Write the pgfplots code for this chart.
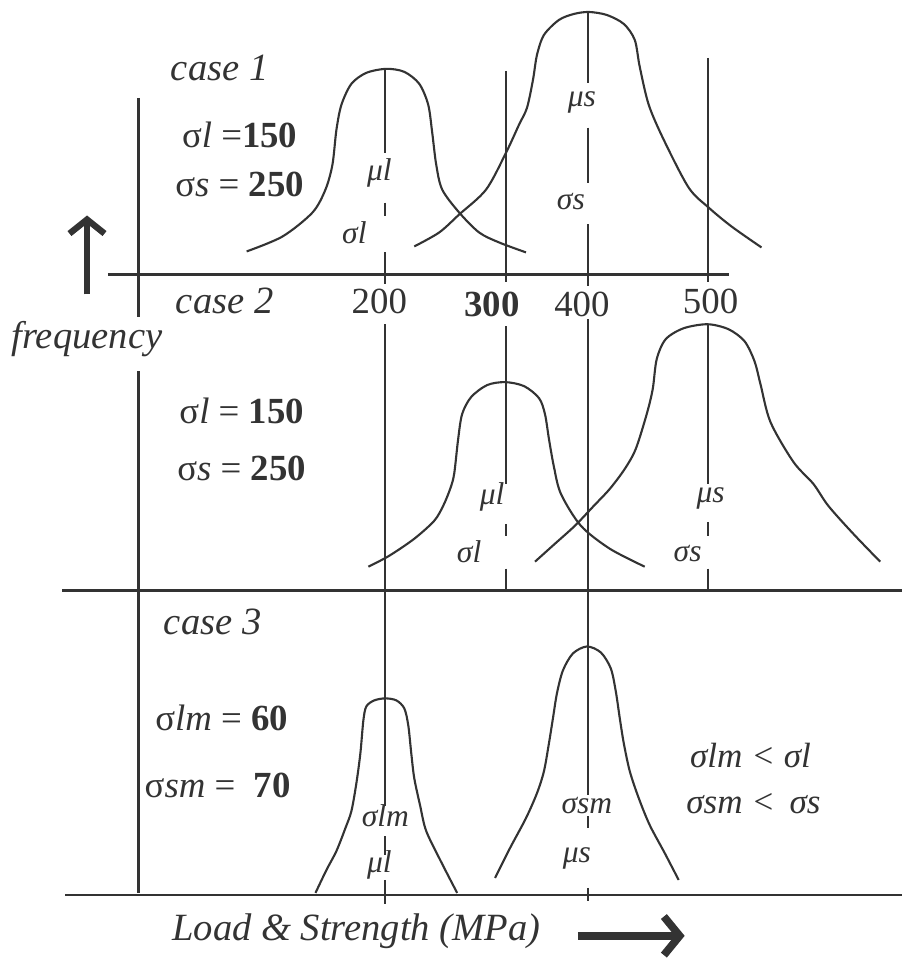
\documentclass[border=0pt]{standalone}
\usepackage{pgfplots}
\pgfplotsset{compat=1.18}
\usepackage{fontspec}
\setmainfont{Liberation Serif}
\usetikzlibrary{arrows.meta}
\definecolor{ink}{HTML}{333333}
\begin{document}
\begin{tikzpicture}[
  lbl/.style={font=\fontsize{11}{13}\selectfont\itshape, text=ink},
  sm/.style={font=\fontsize{9}{11}\selectfont\itshape, text=ink},
  val/.style={font=\fontsize{10.5}{12}\selectfont, text=ink},
]
\begin{axis}[
  scale only axis, width=9.04cm, height=9.6cm,
  xmin=0, xmax=904, ymin=0, ymax=960, y dir=reverse,
  enlargelimits=false, ticks=none, axis line style={draw=none},
  clip=false, unbounded coords=jump,
  every axis plot/.append style={ink, no markers},
]
% axes and dividers
\addplot[line width=0.8pt] coordinates {(139,98) (139,318) (139,nan) (139,372) (139,895)};
\addplot[line width=0.8pt] coordinates {(108,275) (730,275)};
\addplot[line width=0.8pt] coordinates {(62,592) (904,592)};
\addplot[line width=0.8pt] coordinates {(65,897) (904,897)};
% vertical reference lines
\addplot[line width=0.6pt] coordinates {(386,69) (386,153) (386,nan) (386,203) (386,217) (386,nan) (386,253) (386,285)
  (386,nan) (386,325) (386,808) (386,nan) (386,838) (386,857) (386,nan) (386,882) (386,906)};
\addplot[line width=0.6pt] coordinates {(507,71) (507,283) (507,nan) (507,327) (507,485) (507,nan) (507,525) (507,537) (507,nan) (507,570) (507,592)};
\addplot[line width=0.6pt] coordinates {(589,12) (589,83) (589,nan) (589,128) (589,183) (589,nan) (589,225) (589,287)
  (589,nan) (589,320) (589,797) (589,nan) (589,818) (589,830) (589,nan) (589,890) (589,903)};
\addplot[line width=0.6pt] coordinates {(709,58) (709,283) (709,nan) (709,325) (709,485) (709,nan) (709,523) (709,537) (709,nan) (709,570) (709,592)};
% case 1 load
\addplot[line width=0.6pt, smooth, tension=0.5] coordinates {
  (247,252) (283,237) (313,213) (326,190) (333,165) (337,130) (342,105) (352,84) (367,73) (387,69)
  (405,72) (420,84) (429,105) (433,133) (437,165) (443,190) (460,213) (480,233) (500,243) (527,253)};
% case 1 strength
\addplot[line width=0.6pt, smooth, tension=0.5] coordinates {
  (415,247) (440,233) (460,215) (487,190) (507,153) (520,125) (528,108) (534,80) (538,55) (545,35) (560,20) (575,14) (590,12)
  (608,15) (625,24) (636,40) (641,67) (650,105) (665,140) (690,188) (710,208) (733,227) (763,248)};
% case 2 load
\addplot[line width=0.6pt, smooth, tension=0.5] coordinates {
  (369,568) (390,557) (415,540) (435,522) (444,507) (451,490) (455,475) (459,440) (463,415) (472,398) (488,386) (506,383)
  (525,387) (540,399) (546,415) (550,440) (555,468) (562,495) (582,527) (611,550) (646,568)};
% case 2 strength
\addplot[line width=0.6pt, smooth, tension=0.5] coordinates {
  (536,563) (556,545) (576,527) (595,507) (611,490) (626,470) (637,450) (648,415) (654,390) (658,360) (667,340) (685,329) (709,325)
  (730,330) (746,342) (756,362) (762,385) (772,423) (795,463) (815,485) (830,507) (855,535) (882,563)};
% case 3 load
\addplot[line width=0.6pt, smooth, tension=0.5] coordinates {
  (316,895) (327,872) (337,853) (346,830) (352,813) (357,785) (361,755) (364,722) (367,708) (375,702) (386,700)
  (397,702) (405,710) (409,727) (412,755) (415,780) (421,808) (427,833) (442,864) (458,895)};
% case 3 strength
\addplot[line width=0.6pt, smooth, tension=0.5] coordinates {
  (496,880) (511,850) (527,820) (538,795) (545,773) (550,745) (554,720) (558,695) (564,672) (574,655) (588,648)
  (602,654) (612,670) (617,693) (621,720) (625,745) (631,773) (640,800) (651,827) (666,855) (680,882)};
% arrows
\addplot[line width=1.8pt, -{Straight Barb[length=4pt,width=10pt]}] coordinates {(87,295) (87,216)};
\addplot[line width=2.2pt, -{Straight Barb[length=4.5pt,width=11pt]}] coordinates {(579,938) (686,938)};
% texts
\node[lbl] at (axis cs:220,68) {case 1};
\node[lbl] at (axis cs:225,302) {case 2};
\node[lbl] at (axis cs:213,623) {case 3};
\node[lbl] at (axis cs:87,340) {frequency};
\node[lbl] at (axis cs:357,933) {Load \& Strength (MPa)};
\node[val] at (axis cs:240,135) {σ\textit{l} =\textbf{150}};
\node[val] at (axis cs:240,185) {σ\textit{s} = \textbf{250}};
\node[val] at (axis cs:242,412) {σ\textit{l} = \textbf{150}};
\node[val] at (axis cs:242,470) {σ\textit{s} = \textbf{250}};
\node[val] at (axis cs:222,720) {σ\textit{lm} = \textbf{60}};
\node[val] at (axis cs:218,787) {σ\textit{sm} = \ \textbf{70}};
\node[val] at (axis cs:380,302) {200};
\node[val] at (axis cs:493,305) {\textbf{300}};
\node[val] at (axis cs:583,305) {400};
\node[val] at (axis cs:712,302) {500};
\node[sm] at (axis cs:380,173) {μl};
\node[sm] at (axis cs:355,233) {σl};
\node[sm] at (axis cs:583,103) {μs};
\node[sm] at (axis cs:572,202) {σs};
\node[sm] at (axis cs:493,498) {μl};
\node[sm] at (axis cs:470,553) {σl};
\node[sm] at (axis cs:712,500) {μs};
\node[sm] at (axis cs:689,555) {σs};
\node[sm] at (axis cs:386,818) {σlm};
\node[sm] at (axis cs:380,867) {μl};
\node[sm] at (axis cs:588,807) {σsm};
\node[sm] at (axis cs:578,860) {μs};
\node[sm, font=\fontsize{10}{12}\selectfont\itshape] at (axis cs:752,757) {σlm < σl};
\node[sm, font=\fontsize{10}{12}\selectfont\itshape] at (axis cs:755,805) {σsm <\, σs};
\end{axis}
\end{tikzpicture}
\end{document}
